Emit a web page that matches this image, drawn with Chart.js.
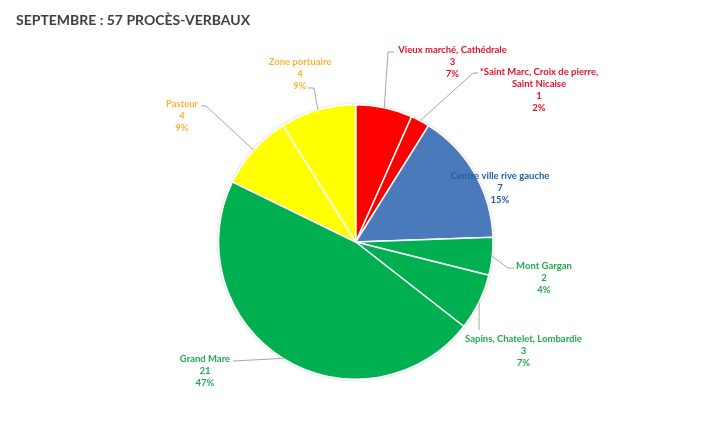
<!DOCTYPE html>
<html>
<head>
<meta charset="utf-8">
<script src="https://cdn.jsdelivr.net/npm/chart.js@4"></script>
<style>
html, body { margin: 0; padding: 0; background: #fff; }
#wrap { width: 707px; height: 427px; }
</style>
</head>
<body>
<div id="wrap"><canvas id="myChart" width="707" height="427"></canvas></div>
<script>
var chartTitle = 'SEPTEMBRE : 57 PROCÈS-VERBAUX';
var categories = [
    ['Vieux marché, Cathédrale'],
    ['*Saint Marc, Croix de pierre,', 'Saint Nicaise'],
    ['Centre ville rive gauche'],
    ['Mont Gargan'],
    ['Sapins, Chatelet, Lombardie'],
    ['Grand Mare'],
    ['Pasteur'],
    ['Zone portuaire']
];
var counts = [3, 1, 7, 2, 3, 21, 4, 4];
var percents = ['7%', '2%', '15%', '4%', '7%', '47%', '9%', '9%'];

var sliceColors = ['#ff0000', '#ff0000', '#4a7ab9', '#00b050', '#00b050', '#00b050', '#ffff00', '#ffff00'];
var labelColors = ['#e2112f', '#e2112f', '#1f5fa8', '#22a84e', '#22a84e', '#22a84e', '#fab432', '#fab432'];

// where each label sits (centre x, first line y) and the leader line bends
var labelPlaces = [
    { x: 452.5, y: 50, bend: [[388, 52], [394, 52]] },
    { x: 539, y: 72, bend: [[473, 73], [478, 73]] },
    { x: 500, y: 176, bend: null },
    { x: 544, y: 266, bend: [[508, 268], [514, 268]] },
    { x: 523.5, y: 339, bend: [[479, 330]] },
    { x: 205, y: 359, bend: [[233, 361]] },
    { x: 182, y: 104, bend: [[206, 106], [201, 106]] },
    { x: 300, y: 62, bend: [[314, 88], [308, 88]] }
];

var pieDecor = {
    id: 'pieDecor',
    beforeDatasetsDraw: function (chart) {
        // soft halo behind the pie
        var arc = chart.getDatasetMeta(0).data[0];
        var ctx = chart.ctx;
        ctx.save();
        ctx.shadowColor = 'rgba(0,0,0,0.25)';
        ctx.shadowBlur = 3;
        ctx.fillStyle = '#fff';
        ctx.beginPath();
        ctx.arc(arc.x, arc.y, arc.outerRadius + 0.5, 0, Math.PI * 2);
        ctx.fill();
        ctx.restore();
    },
    afterDraw: function (chart) {
        var ctx = chart.ctx;
        var arcs = chart.getDatasetMeta(0).data;
        ctx.save();

        ctx.fillStyle = '#404040';
        ctx.font = 'bold 14px Lato';
        ctx.textAlign = 'left';
        ctx.textBaseline = 'middle';
        ctx.fillText(chartTitle, 16, 20);

        arcs.forEach(function (arc, i) {
            var place = labelPlaces[i];
            if (place.bend) {
                var mid = (arc.startAngle + arc.endAngle) / 2;
                ctx.strokeStyle = '#a6a6a6';
                ctx.lineWidth = 1;
                ctx.beginPath();
                ctx.moveTo(arc.x + Math.cos(mid) * arc.outerRadius, arc.y + Math.sin(mid) * arc.outerRadius);
                place.bend.forEach(function (p) { ctx.lineTo(p[0], p[1]); });
                ctx.stroke();
            }
            var lines = categories[i].concat([String(counts[i]), percents[i]]);
            ctx.fillStyle = labelColors[i];
            ctx.font = 'bold 9.5px Lato';
            ctx.textAlign = 'center';
            lines.forEach(function (line, n) {
                ctx.fillText(line, place.x, place.y + n * 12);
            });
        });
        ctx.restore();
    }
};

new Chart(document.getElementById('myChart'), {
    type: 'pie',
    data: {
        labels: categories.map(function (c) { return c.join(' '); }),
        datasets: [{
            data: counts,
            backgroundColor: sliceColors,
            borderColor: '#ffffff',
            borderWidth: 1.5
        }]
    },
    options: {
        responsive: false,
        animation: false,
        layout: { padding: { left: 217.5, right: 213, top: 104, bottom: 47 } },
        plugins: {
            legend: { display: false },
            tooltip: { enabled: false },
            title: { display: false }
        }
    },
    plugins: [pieDecor]
});
</script>
</body>
</html>
